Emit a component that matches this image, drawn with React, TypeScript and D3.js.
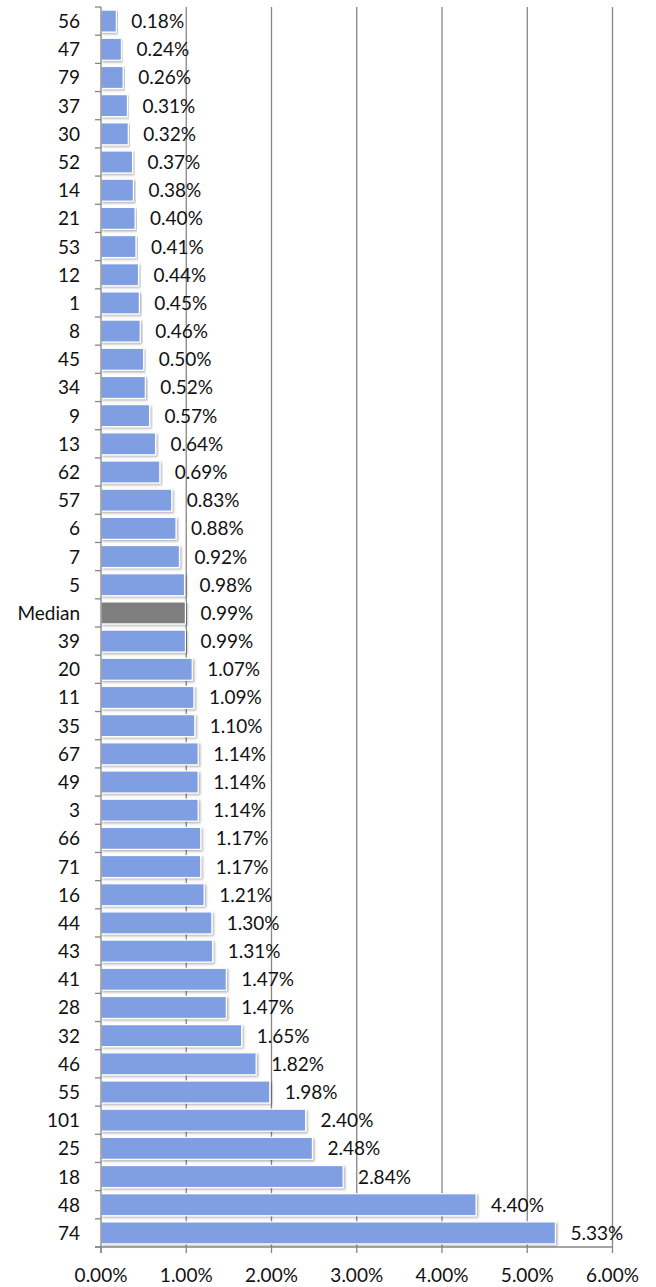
import React from "react";
import * as d3 from "d3";

const categories = ["56","47","79","37","30","52","14","21","53","12","1","8","45","34","9","13","62","57","6","7","5","Median","39","20","11","35","67","49","3","66","71","16","44","43","41","28","32","46","55","101","25","18","48","74"];
const values = [0.18,0.24,0.26,0.31,0.32,0.37,0.38,0.40,0.41,0.44,0.45,0.46,0.50,0.52,0.57,0.64,0.69,0.83,0.88,0.92,0.98,0.99,0.99,1.07,1.09,1.10,1.14,1.14,1.14,1.17,1.17,1.21,1.30,1.31,1.47,1.47,1.65,1.82,1.98,2.40,2.48,2.84,4.40,5.33];
const xTicks = [0,1,2,3,4,5,6];

export default function App() {
  const W = 656, H = 1287;
  const left = 101, right = 612.5, top = 7, bottom = 1247;
  const x = d3.scaleLinear().domain([0, 6]).range([left, right]);
  const y = d3.scaleBand<string>().domain(categories).range([top, bottom]).paddingInner(0.22).paddingOuter(0.11);
  const step = y.step();
  const font = "Lato, 'Noto Sans', sans-serif";
  const axisColor = "#868686";
  const fs = 19;
  return (
    <svg width={W} height={H} style={{ position: "absolute", left: 0, top: 0 }} fontFamily={font}>
      <defs>
        <filter id="sh" x="-5%" y="-20%" width="110%" height="150%">
          <feDropShadow dx="1.5" dy="1.5" stdDeviation="1" floodColor="#000" floodOpacity="0.3" />
        </filter>
      </defs>
      {xTicks.slice(1).map(t => (
        <line key={"g" + t} x1={x(t)} x2={x(t)} y1={top} y2={bottom} stroke={axisColor} strokeWidth={1.3} />
      ))}
      {categories.map((c, i) => {
        const v = values[i];
        const yy = y(c)!;
        return (
          <g key={c + i}>
            <rect x={x(0)} y={yy} width={x(v) - x(0)} height={y.bandwidth()}
              fill={c === "Median" ? "#7f7f7f" : "#7f9fe2"} stroke="#fff" strokeWidth={1.2} filter="url(#sh)" />
            <text x={x(v) + 15} y={yy + y.bandwidth() / 2 + 7} fontSize={fs} fill="#111">
              {v.toFixed(2) + "%"}
            </text>
            <text x={80} y={yy + y.bandwidth() / 2 + 7} fontSize={fs} textAnchor="end" fill="#111">{c}</text>
          </g>
        );
      })}
      <line x1={left} x2={left} y1={top} y2={bottom + 6} stroke={axisColor} strokeWidth={1.3} />
      {d3.range(categories.length + 1).map(i => (
        <line key={"yt" + i} x1={left - 6} x2={left} y1={top + i * step} y2={top + i * step} stroke={axisColor} strokeWidth={1.3} />
      ))}
      <line x1={left - 6} x2={right} y1={bottom} y2={bottom} stroke={axisColor} strokeWidth={1.3} />
      {xTicks.map(t => (
        <g key={"xt" + t}>
          <line x1={x(t)} x2={x(t)} y1={bottom} y2={bottom + 6} stroke={axisColor} strokeWidth={1.3} />
          <text x={x(t)} y={bottom + 35} fontSize={fs} textAnchor="middle" fill="#111">{t.toFixed(2) + "%"}</text>
        </g>
      ))}
    </svg>
  );
}
